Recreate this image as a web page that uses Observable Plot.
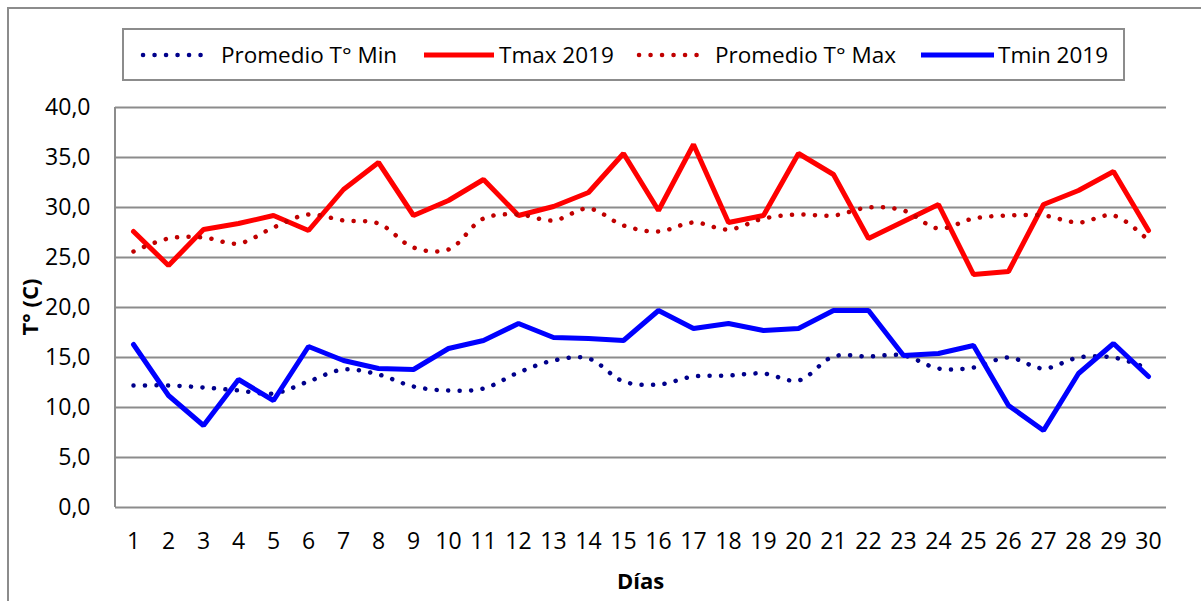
<!DOCTYPE html>
<html>
<head>
<meta charset="utf-8">
<script src="https://cdn.jsdelivr.net/npm/d3@7"></script>
<script src="https://cdn.jsdelivr.net/npm/@observablehq/plot@0.6"></script>
<style>
  html, body { margin: 0; padding: 0; background: #fff; }
  #wrap { position: relative; width: 1201px; height: 601px; overflow: hidden; font-family: "Open Sans", sans-serif; color: #000; }
  #outer { position: absolute; left: 7px; top: 7px; width: 1300px; height: 700px; border-left: 2px solid #8c8c8c; border-top: 2px solid #8c8c8c; box-sizing: border-box; }
  #legend { position: absolute; left: 122px; top: 28px; width: 1003px; height: 53px; border: 2px solid #8c8c8c; box-sizing: border-box; }
  .lg { position: absolute; top: 0; height: 49px; line-height: 49px; font-size: 22.5px; white-space: nowrap; }
  .sw { position: absolute; top: 0; }
  #chart { position: absolute; left: 0; top: 0; }
  .atitle { position: absolute; font-weight: bold; font-size: 22px; white-space: nowrap; }
</style>
</head>
<body>
<div id="wrap">
  <div id="outer"></div>
  <div id="chart"></div>
  <div id="legend"></div>
  <div class="atitle" id="ytitle">T° (C)</div>
  <div class="atitle" id="xtitle">Días</div>
</div>
<script>
const days = [1,2,3,4,5,6,7,8,9,10,11,12,13,14,15,16,17,18,19,20,21,22,23,24,25,26,27,28,29,30];
const promedioMin = [12.2,12.2,12.0,11.7,11.4,12.6,13.8,13.3,12.1,11.7,11.9,13.5,14.7,14.9,12.6,12.3,13.1,13.2,13.4,12.7,15.1,15.1,15.2,13.9,14.0,15.0,13.9,15.0,15.0,13.9];
const tmax2019 = [27.6,24.2,27.8,28.4,29.2,27.7,31.8,34.5,29.2,30.7,32.8,29.2,30.1,31.5,35.4,29.7,36.3,28.5,29.2,35.4,33.3,26.9,28.6,30.3,23.3,23.6,30.3,31.7,33.6,27.7];
const promedioMax = [25.6,26.9,27.0,26.4,28.0,29.3,28.7,28.4,26.0,25.8,28.9,29.3,28.7,29.9,28.2,27.6,28.5,27.8,28.9,29.3,29.2,30.0,29.7,27.9,28.9,29.2,29.2,28.5,29.2,26.7];
const tmin2019 = [16.3,11.2,8.2,12.8,10.7,16.1,14.7,13.9,13.8,15.9,16.7,18.4,17.0,16.9,16.7,19.7,17.9,18.4,17.7,17.9,19.7,19.7,15.2,15.4,16.2,10.2,7.7,13.4,16.4,13.1];
const yTicks = [0,5,10,15,20,25,30,35,40];
const seriesNames = ["Promedio T° Min","Tmax 2019","Promedio T° Max","Tmin 2019"];

const colMin = "#00008b", colTmax = "#ff0000", colMax = "#c00000", colTmin = "#0000ff";
const toRows = vals => days.map((d, i) => ({day: d, value: vals[i]}));
const fmt = d => d.toFixed(1).replace(".", ",");

const ML = 115, MR = 35, MT = 107, MB = 94, W = 1201, H = 601;

const leftAxisLine = (index, scales, values, dims) => {
  const g = d3.create("svg:line")
    .attr("x1", dims.marginLeft).attr("x2", dims.marginLeft)
    .attr("y1", dims.marginTop).attr("y2", dims.height - dims.marginBottom)
    .attr("stroke", "#8c8c8c").attr("stroke-width", 2);
  return g.node();
};

const dotted = {strokeWidth: 4.5, strokeDasharray: "0.1 11.4", strokeLinecap: "round", curve: "catmull-rom"};

const chart = Plot.plot({
  width: W, height: H,
  marginLeft: ML, marginRight: MR, marginTop: MT, marginBottom: MB,
  style: {fontFamily: "Open Sans, sans-serif", fontSize: "23px", color: "#000", background: "transparent", overflow: "visible"},
  x: {type: "point", domain: days, padding: 0.5},
  y: {domain: [0, 40]},
  marks: [
    Plot.ruleY(yTicks, {stroke: "#8c8c8c", strokeWidth: 2, strokeOpacity: 1}),
    leftAxisLine,
    Plot.axisY({ticks: yTicks, tickFormat: fmt, tickSize: 0, tickPadding: 25, label: null}),
    Plot.axisX({tickSize: 0, tickPadding: 25, label: null}),
    Plot.line(toRows(promedioMin), {x: "day", y: "value", stroke: colMin, ...dotted}),
    Plot.line(toRows(tmax2019), {x: "day", y: "value", stroke: colTmax, strokeWidth: 5, strokeLinejoin: "miter"}),
    Plot.line(toRows(promedioMax), {x: "day", y: "value", stroke: colMax, ...dotted}),
    Plot.line(toRows(tmin2019), {x: "day", y: "value", stroke: colTmin, strokeWidth: 5, strokeLinejoin: "miter"})
  ]
});
document.getElementById("chart").appendChild(chart);

// legend
const legend = document.getElementById("legend");
const items = [
  {name: seriesNames[0], color: colMin, dotted: true, sx: 19, sw: 64, tx: 97},
  {name: seriesNames[1], color: colTmax, dotted: false, sx: 300, sw: 70, tx: 375},
  {name: seriesNames[2], color: colMax, dotted: true, sx: 515, sw: 64, tx: 591},
  {name: seriesNames[3], color: colTmin, dotted: false, sx: 797, sw: 73, tx: 874}
];
const ns = "http://www.w3.org/2000/svg";
items.forEach(it => {
  const svg = document.createElementNS(ns, "svg");
  svg.setAttribute("class", "sw");
  svg.setAttribute("width", it.sw + 6);
  svg.setAttribute("height", 49);
  svg.style.left = (it.sx - 3) + "px";
  const ln = document.createElementNS(ns, "line");
  ln.setAttribute("x1", 3); ln.setAttribute("x2", it.sw + 3);
  ln.setAttribute("y1", 25); ln.setAttribute("y2", 25);
  ln.setAttribute("stroke", it.color);
  if (it.dotted) {
    ln.setAttribute("stroke-width", 4.5);
    ln.setAttribute("stroke-dasharray", "0.1 11.4");
    ln.setAttribute("stroke-linecap", "round");
  } else {
    ln.setAttribute("stroke-width", 5);
  }
  svg.appendChild(ln);
  legend.appendChild(svg);
  const t = document.createElement("div");
  t.className = "lg";
  t.style.left = it.tx + "px";
  t.textContent = it.name;
  legend.appendChild(t);
});

// axis titles
const yt = document.getElementById("ytitle");
yt.style.left = "29px"; yt.style.top = ((MT + H - MB) / 2) + "px";
yt.style.transform = "translate(-50%, -50%) rotate(-90deg)";
const xt = document.getElementById("xtitle");
xt.style.left = ((ML + W - MR) / 2) + "px"; xt.style.top = "580px";
xt.style.transform = "translate(-50%, -50%)";
</script>
</body>
</html>
